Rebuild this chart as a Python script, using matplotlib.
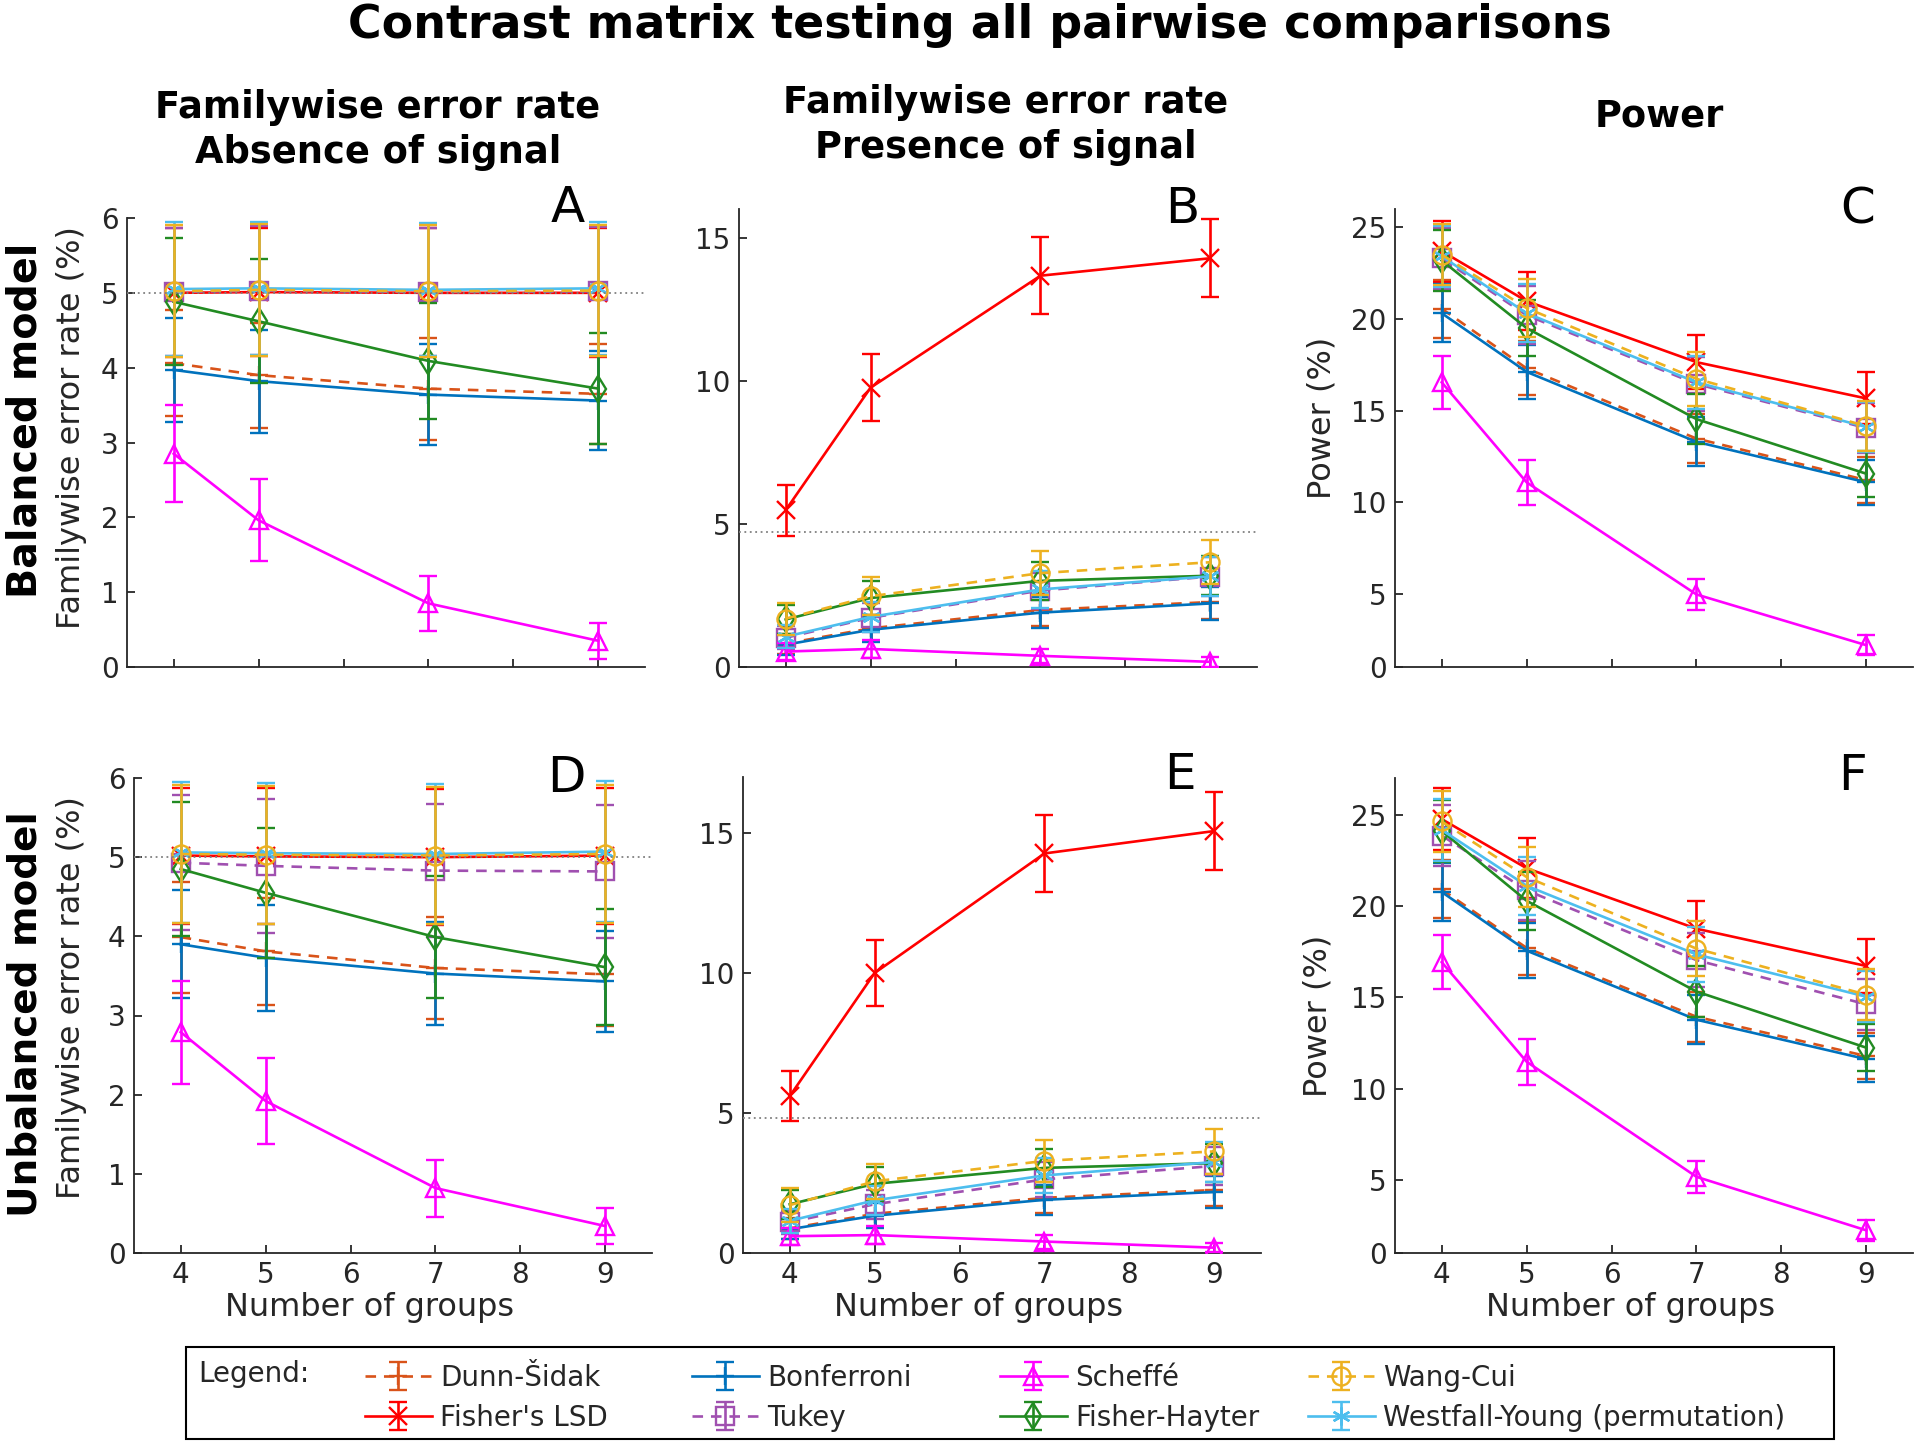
import numpy as np
import matplotlib
matplotlib.use('Agg')
import matplotlib.pyplot as plt
from matplotlib.patches import Rectangle

# ---------------------------------------------------------------
# data, method order:
# Dunn-Sidak, Fisher's LSD, Bonferroni, Tukey, Scheffe, Fisher-Hayter, Wang-Cui, Westfall-Young
groups = [4, 5, 7, 9]
methods = ['Dunn-Šidak', "Fisher's LSD", 'Bonferroni', 'Tukey', 'Scheffé',
           'Fisher-Hayter', 'Wang-Cui', 'Westfall-Young (permutation)']

# A: balanced, familywise error rate, absence of signal
bal_fwer_null = [[4.06, 3.90, 3.72, 3.65],
                 [5.00, 5.01, 5.00, 5.00],
                 [3.97, 3.82, 3.64, 3.56],
                 [5.01, 5.03, 5.01, 5.02],
                 [2.85, 1.96, 0.85, 0.35],
                 [4.88, 4.62, 4.09, 3.72],
                 [5.02, 5.04, 5.02, 5.03],
                 [5.05, 5.06, 5.04, 5.06]]
bal_fwer_null_err = [[0.71, 0.70, 0.68, 0.67],
                     [0.86, 0.86, 0.86, 0.86],
                     [0.70, 0.69, 0.67, 0.66],
                     [0.86, 0.86, 0.86, 0.86],
                     [0.65, 0.55, 0.37, 0.24],
                     [0.85, 0.83, 0.78, 0.74],
                     [0.88, 0.88, 0.88, 0.88],
                     [0.89, 0.89, 0.89, 0.89]]

# B: balanced, familywise error rate, presence of signal
bal_fwer_sig = [[0.82, 1.35, 1.99, 2.27],
                [5.48, 9.76, 13.67, 14.28],
                [0.78, 1.30, 1.90, 2.22],
                [1.02, 1.72, 2.67, 3.16],
                [0.54, 0.63, 0.39, 0.18],
                [1.66, 2.41, 3.01, 3.19],
                [1.69, 2.47, 3.28, 3.66],
                [1.06, 1.75, 2.71, 3.17]]
bal_fwer_sig_err = [[0.35, 0.45, 0.55, 0.58],
                    [0.89, 1.16, 1.35, 1.37],
                    [0.35, 0.44, 0.54, 0.58],
                    [0.40, 0.51, 0.63, 0.69],
                    [0.29, 0.31, 0.25, 0.17],
                    [0.50, 0.60, 0.67, 0.69],
                    [0.56, 0.66, 0.76, 0.77],
                    [0.40, 0.51, 0.64, 0.69]]

# C: balanced, power
bal_power = [[20.56, 17.30, 13.47, 11.20],
             [23.70, 20.97, 17.64, 15.66],
             [20.31, 17.11, 13.29, 11.08],
             [23.30, 20.20, 16.45, 14.04],
             [16.54, 11.08, 4.96, 2.19],
             [23.19, 19.50, 14.53, 11.55],
             [23.51, 20.59, 16.73, 14.15],
             [23.42, 20.31, 16.54, 14.10]]
bal_power_err = [[1.58, 1.48, 1.34, 1.24],
                 [1.67, 1.60, 1.49, 1.42],
                 [1.58, 1.48, 1.33, 1.23],
                 [1.66, 1.58, 1.45, 1.36],
                 [1.44, 1.22, 0.85, 0.55],
                 [1.65, 1.55, 1.38, 1.25],
                 [1.66, 1.59, 1.46, 1.37],
                 [1.66, 1.58, 1.46, 1.36]]

# D: unbalanced, familywise error rate, absence of signal
unb_fwer_null = [[3.99, 3.81, 3.60, 3.52],
                 [5.02, 5.01, 5.00, 5.02],
                 [3.90, 3.73, 3.53, 3.43],
                 [4.93, 4.89, 4.83, 4.82],
                 [2.79, 1.92, 0.82, 0.34],
                 [4.85, 4.55, 3.99, 3.61],
                 [5.04, 5.03, 5.02, 5.04],
                 [5.06, 5.05, 5.04, 5.07]]
unb_fwer_null_err = [[0.70, 0.68, 0.65, 0.65],
                     [0.86, 0.86, 0.86, 0.86],
                     [0.68, 0.67, 0.65, 0.64],
                     [0.85, 0.85, 0.84, 0.84],
                     [0.65, 0.54, 0.36, 0.23],
                     [0.85, 0.82, 0.77, 0.73],
                     [0.87, 0.87, 0.87, 0.87],
                     [0.89, 0.89, 0.89, 0.89]]

# E: unbalanced, familywise error rate, presence of signal
unb_fwer_sig = [[0.88, 1.40, 1.97, 2.25],
                [5.60, 10.00, 14.27, 15.07],
                [0.85, 1.33, 1.90, 2.18],
                [1.10, 1.74, 2.63, 3.11],
                [0.60, 0.64, 0.41, 0.19],
                [1.74, 2.47, 3.04, 3.21],
                [1.71, 2.56, 3.29, 3.63],
                [1.15, 1.88, 2.77, 3.25]]
unb_fwer_sig_err = [[0.37, 0.46, 0.55, 0.58],
                    [0.90, 1.18, 1.38, 1.40],
                    [0.36, 0.45, 0.54, 0.57],
                    [0.41, 0.51, 0.63, 0.68],
                    [0.30, 0.31, 0.25, 0.17],
                    [0.51, 0.61, 0.67, 0.69],
                    [0.62, 0.62, 0.74, 0.81],
                    [0.42, 0.53, 0.64, 0.70]]

# F: unbalanced, power
unb_power = [[20.90, 17.70, 13.93, 11.78],
             [24.75, 22.06, 18.75, 16.71],
             [20.76, 17.55, 13.77, 11.61],
             [23.85, 20.85, 17.03, 14.61],
             [16.92, 11.47, 5.17, 2.24],
             [24.10, 20.28, 15.31, 12.24],
             [24.62, 21.58, 17.66, 15.14],
             [24.16, 21.10, 17.34, 15.03]]
unb_power_err = [[1.59, 1.50, 1.36, 1.26],
                 [1.69, 1.63, 1.53, 1.46],
                 [1.59, 1.49, 1.35, 1.26],
                 [1.67, 1.60, 1.47, 1.39],
                 [1.47, 1.25, 0.87, 0.58],
                 [1.68, 1.58, 1.41, 1.29],
                 [1.69, 1.62, 1.49, 1.40],
                 [1.68, 1.60, 1.49, 1.40]]

# nominal level lines (dotted)
ref_level = {'A': 5.0, 'B': 4.70, 'D': 5.0, 'E': 4.82}

# ---------------------------------------------------------------
# styles
colors = ['#D95319', '#FF0000', '#0072BD', '#A050B0', '#FF00FF', '#228B22', '#EDB120', '#4DBEEE']
lstyles = ['--', '-', '-', '--', '-', '-', '--', '-']
markers = ['+', 'x', '+', 's', '^', 'd', 'o', (6, 2, 0)]
draw_order = [0, 1, 2, 3, 4, 5, 7, 6]

plt.rcParams['font.family'] = 'DejaVu Sans'
txt_col = '#262626'

fig = plt.figure(figsize=(19.2, 14.46), dpi=100)
W, H = 1920.0, 1446.0

def px_axes(x0, top, width, bottom):
    return fig.add_axes([x0 / W, 1 - bottom / H, width / W, (bottom - top) / H])

panels = [
    ('A', px_axes(127, 218, 518, 667), bal_fwer_null, bal_fwer_null_err, (0, 6), [0, 1, 2, 3, 4, 5, 6], None, (0.850, 1.022)),
    ('B', px_axes(739, 209, 518, 667), bal_fwer_sig, bal_fwer_sig_err, (0, 16), [0, 5, 10, 15], None, (0.855, 1.0)),
    ('C', px_axes(1395, 209, 518, 667), bal_power, bal_power_err, (1, 26), [1, 5, 10, 15, 20, 25], ['0', '5', '10', '15', '20', '25'], (0.893, 1.0)),
    ('D', px_axes(134, 778, 518, 1253), unb_fwer_null, unb_fwer_null_err, (0, 6), [0, 1, 2, 3, 4, 5, 6], None, (0.835, 1.0)),
    ('E', px_axes(743, 777, 518, 1253), unb_fwer_sig, unb_fwer_sig_err, (0, 17), [0, 5, 10, 15], None, (0.843, 1.005)),
    ('F', px_axes(1395, 778, 518, 1253), unb_power, unb_power_err, (1, 27), [1, 5, 10, 15, 20, 25], ['0', '5', '10', '15', '20', '25'], (0.883, 1.005)),
]

handles = {}
for letter, ax, means, errs, ylim, yticks, ylabels, letter_pos in panels:
    for n, k in enumerate(draw_order):
        eb = ax.errorbar(groups, means[k], yerr=errs[k], color=colors[k], linestyle=lstyles[k],
                         marker=markers[k], markerfacecolor='none', markeredgecolor=colors[k],
                         markersize=13, markeredgewidth=1.7, linewidth=1.9, elinewidth=1.9,
                         capsize=6.5, capthick=1.9, zorder=3 + n * 0.1)
        if lstyles[k] == '--':
            eb.lines[0].set_dashes((4, 3))
        if letter == 'A':
            handles[k] = eb
    if letter in ref_level:
        ax.axhline(ref_level[letter], color='#808080', linestyle=(0, (1, 2)), linewidth=1.3, zorder=10)

    ax.set_xlim(3.45, 9.55)
    ax.set_ylim(*ylim)
    ax.set_xticks([4, 5, 6, 7, 8, 9])
    ax.set_yticks(yticks)
    if ylabels is not None:
        ax.set_yticklabels(ylabels)
    for s in ['top', 'right']:
        ax.spines[s].set_visible(False)
    for s in ['left', 'bottom']:
        ax.spines[s].set_color(txt_col)
        ax.spines[s].set_linewidth(1.3)
    ax.tick_params(direction='in', length=6, width=1.3, colors=txt_col, labelsize=20, pad=6)
    if letter in 'ABC':
        ax.tick_params(axis='x', labelbottom=False)
    else:
        ax.set_xlabel('Number of groups', fontsize=23, color=txt_col)
        ax.xaxis.set_label_coords(0.455, -0.082)
    ax.text(letter_pos[0], letter_pos[1], letter, transform=ax.transAxes, fontsize=36,
            ha='center', va='center', color='black')

# y labels (x position, vertical shift in px)
ylab_pos = {'A': (72, -15), 'D': (72, -18), 'C': (1322, -20), 'F': (1318, 0)}
for letter, ax, *_ in panels:
    if letter in ylab_pos:
        pos = ax.get_position()
        yc = pos.y0 + pos.height / 2 - ylab_pos[letter][1] / H
        lab = 'Power (%)' if letter in 'CF' else 'Familywise error rate (%)'
        fig.text(ylab_pos[letter][0] / W, yc, lab, rotation=90, ha='center', va='center',
                 fontsize=23, color=txt_col)

# row labels
fig.text(26 / W, 1 - 420 / H, 'Balanced model', rotation=90, ha='center', va='center',
         fontsize=28.5, fontweight='bold')
fig.text(26 / W, 1 - 1014 / H, 'Unbalanced model', rotation=90, ha='center', va='center',
         fontsize=28, fontweight='bold')

# titles
fig.text(980 / W, 1 - 25 / H, 'Contrast matrix testing all pairwise comparisons',
         ha='center', va='center', fontsize=33, fontweight='bold')
fig.text(378 / W, 1 - 130 / H, 'Familywise error rate\nAbsence of signal', ha='center', va='center',
         fontsize=26.5, fontweight='bold', linespacing=1.3)
fig.text(1006 / W, 1 - 125 / H, 'Familywise error rate\nPresence of signal', ha='center', va='center',
         fontsize=26.5, fontweight='bold', linespacing=1.3)
fig.text(1659 / W, 1 - 116 / H, 'Power', ha='center', va='center', fontsize=26.5, fontweight='bold')

# legend box
fig.add_artist(Rectangle((186 / W, 1 - 1439 / H), (1834 - 186) / W, (1439 - 1347) / H,
                         transform=fig.transFigure, fill=False, edgecolor='black', linewidth=1.5))
fig.text(198 / W, 1 - 1374 / H, 'Legend:', ha='left', va='center', fontsize=20, color=txt_col)

col_x = [365, 692, 1000, 1308]
row_y = [1378, 1418]
legend_grid = [[0, 2, 4, 6], [1, 3, 5, 7]]
for r, row in enumerate(legend_grid):
    for c, k in enumerate(row):
        fig.legend([handles[k]], [methods[k]], loc='center left',
                   bbox_to_anchor=(col_x[c] / W, 1 - row_y[r] / H),
                   frameon=False, fontsize=20, borderpad=0, borderaxespad=0,
                   handlelength=2.4, handletextpad=0.3, labelcolor=txt_col)

fig.savefig('out.png', dpi=100)
